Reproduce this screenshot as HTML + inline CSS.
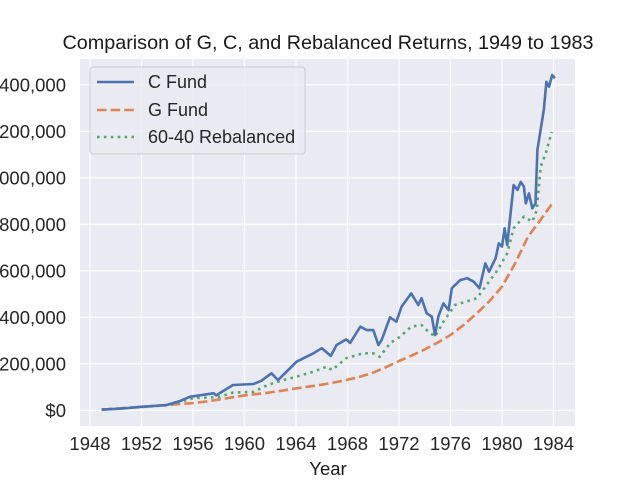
<!DOCTYPE html>
<html><head><meta charset="utf-8"><style>
body{margin:0;background:#fff;}
svg{display:block;font-family:"Liberation Sans","DejaVu Sans",sans-serif;}
</style></head><body>
<svg id="chart" width="640" height="480">
<rect x="0" y="0" width="640" height="480" fill="#fff"/>
<rect x="80" y="59" width="495" height="367" fill="#eaeaf2"/>
<g id="grid"></g><g id="ticks"></g><g id="series"></g>
<text x="328" y="49" text-anchor="middle" font-size="19.8" fill="#1a1a1a">Comparison of G, C, and Rebalanced Returns, 1949 to 1983</text>
<text x="328" y="475" text-anchor="middle" font-size="18.5" fill="#1a1a1a">Year</text>
<g>
<rect x="90" y="67" width="215" height="87" rx="3" fill="#eaeaf2" fill-opacity="0.8" stroke="#cccccc"/>
<line x1="97" y1="82" x2="134" y2="82" stroke="#4c72b0" stroke-width="2.6"/>
<text x="148" y="88" font-size="18" fill="#262626">C Fund</text>
<line x1="97" y1="110" x2="134" y2="110" stroke="#dd8452" stroke-width="2.6" stroke-dasharray="9.6,4"/>
<text x="148" y="116" font-size="18" fill="#262626">G Fund</text>
<line x1="97" y1="137" x2="134" y2="137" stroke="#55a868" stroke-width="2.6" stroke-dasharray="2.6,4.3"/>
<text x="148" y="143" font-size="18" fill="#262626">60-40 Rebalanced</text>
</g>
</svg>
<script>
const xTicks=[1948,1952,1956,1960,1964,1968,1972,1976,1980,1984];
const yTicks=[0,200000,400000,600000,800000,1000000,1200000,1400000];
const yLabels=["$0","200,000","400,000","600,000","800,000","1,000,000","1,200,000","1,400,000"];
const cYears=[1948.9,1950,1951,1952,1953,1953.95,1955,1955.75,1957.05,1957.6,1957.8,1959.1,1960.7,1961.3,1962.1,1962.6,1964.05,1965.35,1966,1966.7,1967.15,1967.9,1968.2,1969,1969.5,1970,1970.4,1970.65,1971.3,1971.8,1972.2,1972.95,1973.5,1973.75,1974.15,1974.55,1974.8,1975.05,1975.45,1975.85,1976.1,1976.75,1977.3,1977.8,1978.25,1978.7,1979,1979.5,1979.75,1980,1980.2,1980.4,1980.9,1981.2,1981.45,1981.7,1981.85,1982.1,1982.35,1982.6,1982.75,1983.25,1983.45,1983.65,1983.9,1984.1];
const cValues=[3,6,10,15,19,23,40,58,69,73,64,109,113,127,159,130,209,245,267,234,281,305,290,360,345,345,281,302,400,381,446,503,453,482,417,403,324,403,460,431,525,560,568,553,525,632,596,654,718,704,783,711,969,948,983,962,890,933,869,890,1120,1292,1413,1392,1442,1428];
const gYears=[1949,1950,1951,1952,1953,1954,1955,1956,1957,1958,1959,1960,1961,1962,1963,1964,1965,1966,1967,1968,1969,1970,1971,1972,1973,1974,1975,1976,1977,1978,1979,1980,1981,1982,1983,1984];
const gValues=[3,7,11,15,19,23,27,31,38,46,55,64,70,77,85,94,102,110,120,131,145,162,186,212,236,262,291,324,366,415,468,532,630,745,820,897];
const rYears=[1948.9,1950,1952,1954,1956,1958,1959.1,1960.7,1961.8,1963,1964,1965.35,1966.4,1966.8,1967.9,1969.2,1970,1970.5,1971.3,1972.1,1972.95,1973.75,1974.15,1974.8,1975.45,1976.35,1978.05,1978.9,1979.65,1980.4,1980.9,1981.7,1982.35,1982.7,1983,1983.4,1983.85];
const rValues=[3,7,14,22,52,57,76,79,109,130,144,166,188,173,224,245,245,230,288,317,360,367,345,317,381,453,482,546,603,675,783,833,811,861,1048,1105,1198];
const NS="http://www.w3.org/2000/svg";
const X=y=>90+(y-1948)*(463.5/36);
const Y=v=>410.3-v/200*46.5; // v in thousands
const Yr=v=>Y(v/1000);
const grid=document.getElementById('grid'),ticks=document.getElementById('ticks'),series=document.getElementById('series');
function mk(tag,attrs,parent){const e=document.createElementNS(NS,tag);for(const k in attrs)e.setAttribute(k,attrs[k]);parent.appendChild(e);return e;}
xTicks.forEach(t=>{
  const l=mk('line',{x1:X(t),x2:X(t),y1:59,y2:426,stroke:'#fff','stroke-width':1.2},grid);
  
  
  const tx=mk('text',{x:X(t),y:450,'text-anchor':'middle','font-size':18.5,fill:'#262626'},ticks);
  tx.textContent=t;
  
  
});
yTicks.forEach((t,i)=>{
  const l=mk('line',{x1:80,x2:575,y1:Yr(t),y2:Yr(t),stroke:'#fff','stroke-width':1.2},grid);
  
  
  const tx=mk('text',{x:66,y:Yr(t)+6.5,'text-anchor':'end','font-size':18.5,fill:'#262626'},ticks);
  tx.textContent=yLabels[i];
  
  
});
function line(xs,vs,color,dash,name){
  const d=xs.map((x,i)=>(i?'L':'M')+X(x).toFixed(1)+','+Y(vs[i]).toFixed(1)).join('');
  const p=mk('path',{d:d,fill:'none',stroke:color,'stroke-width':2.6,'stroke-linejoin':'round'},series);
  if(dash)p.setAttribute('stroke-dasharray',dash);
  
  
}
line(gYears,gValues,'#dd8452','9.6,4','g-fund-line');
line(rYears,rValues,'#55a868','2.6,4.3','rebalanced-line');
line(cYears,cValues,'#4c72b0',null,'c-fund-line');
</script>
</body></html>
